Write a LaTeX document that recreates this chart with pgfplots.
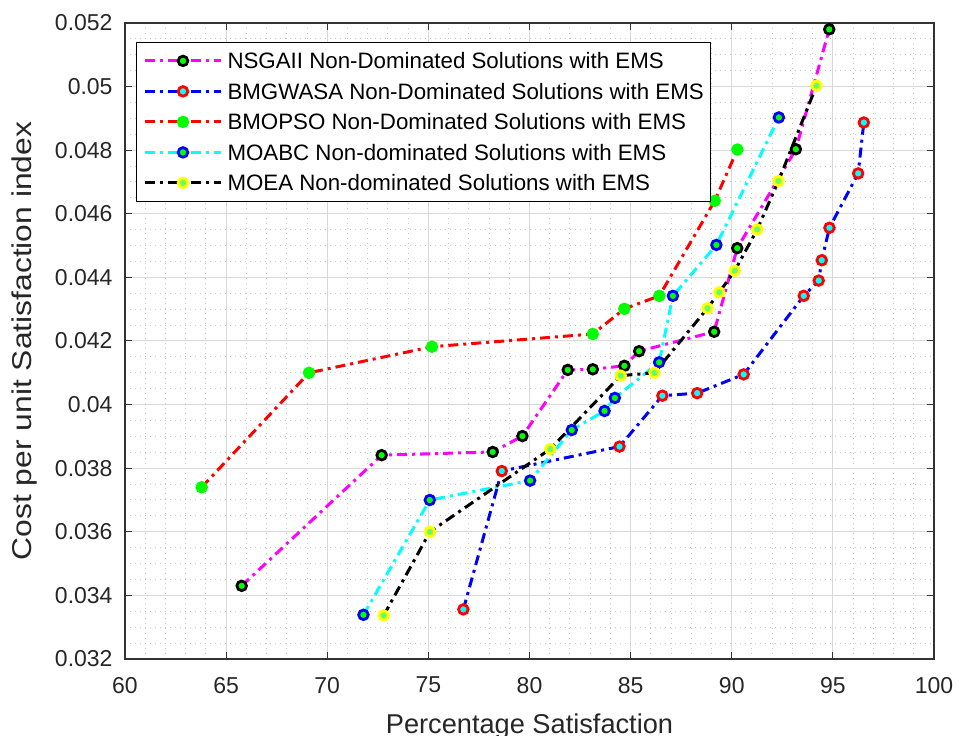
\documentclass[border=0pt]{standalone}
\usepackage{fontspec}
\setmainfont{Liberation Sans}
\usepackage{graphicx}
\usepackage{pgfplots}
\pgfplotsset{compat=1.18}
\definecolor{mgreen}{rgb}{0,1,0}
\definecolor{mcyan}{rgb}{0,1,1}
\definecolor{myellow}{rgb}{1,1,0}
\definecolor{mmag}{rgb}{1,0,1}
\definecolor{mblue}{rgb}{0,0,1}
\definecolor{mred}{rgb}{1,0,0}

\pgfplotstableread{
x y
65.77 0.03430
72.69 0.03841
78.18 0.03851
79.65 0.03901
81.89 0.04109
83.13 0.04111
84.69 0.04122
85.42 0.04168
89.13 0.04229
90.27 0.04492
93.17 0.04803
94.82 0.05180
}\nsga
\pgfplotstableread{
x y
76.73 0.03356
78.63 0.03791
84.45 0.03868
86.57 0.04028
88.29 0.04036
90.59 0.04095
93.56 0.04342
94.30 0.04390
94.45 0.04454
94.83 0.04556
96.25 0.04727
96.53 0.04887
}\bmgwasa
\pgfplotstableread{
x y
63.79 0.03740
69.10 0.04100
75.18 0.04182
83.13 0.04222
84.69 0.04301
86.42 0.04342
89.16 0.04641
90.28 0.04802
}\bmopso
\pgfplotstableread{
x y
71.79 0.03339
75.07 0.03700
80.03 0.03761
82.09 0.03920
83.71 0.03980
84.22 0.04021
86.41 0.04133
87.09 0.04342
89.24 0.04502
92.33 0.04903
}\moabc
\pgfplotstableread{
x y
72.79 0.03337
75.08 0.03600
81.02 0.03860
84.51 0.04091
86.18 0.04100
88.80 0.04303
89.38 0.04353
90.15 0.04421
91.26 0.04551
92.31 0.04703
94.19 0.05003
}\moea

\begin{document}
\begin{tikzpicture}
\begin{axis}[
  scale only axis, width=404.5pt, height=318pt,
  xmin=60, xmax=100, ymin=0.032, ymax=0.052,
  xtick={60,65,70,75,80,85,90,95,100},
  xticklabels={60,65,70,75,80,85,90,95,100},
  ytick={0.032,0.034,0.036,0.038,0.040,0.042,0.044,0.046,0.048,0.050,0.052},
  yticklabels={0.032,0.034,0.036,0.038,0.04,0.042,0.044,0.046,0.048,0.05,0.052},
  scaled y ticks=false, scaled x ticks=false,
  /pgf/number format/assume math mode=true,
  minor x tick num=4, minor y tick num=3,
  minor tick length=0pt, major tick length=3.5pt,
  tick style={line width=0.5pt, color=black!80},
  grid=both,
  major grid style={line width=0.5pt, color=black!15},
  minor grid style={line width=0.5pt, color=black!22, dotted},
  axis line style={line width=0.75pt, color=black!80},
  ticklabel style={font=\fontsize{11.5}{13}\selectfont, text=black!85},
  yticklabel style={xshift=-2.7pt},
  xticklabel style={yshift=-5.5pt},
  xlabel={Percentage Satisfaction},
  ylabel={\scalebox{1.17}[1]{Cost per unit Satisfaction index}},
  label style={font=\fontsize{13.6}{15}\selectfont, text=black!85},
  xlabel style={at={(axis description cs:0.5,-0.1164)}, anchor=base},
  ylabel style={at={(axis description cs:-0.1248,0.5)}, anchor=center},
  every axis plot/.append style={line width=1.5pt, dash pattern=on 5pt off 2.5pt on 1.5pt off 2.5pt},
  legend image code/.code={\draw[mark repeat=2,mark phase=2,#1] plot coordinates {(0pt,0pt)(19pt,0pt)(38pt,0pt)};},
  legend cell align=left,
  legend style={at={(axis description cs:0,1)}, anchor=north west, xshift=5.5pt, yshift=-9.5pt,
    draw=black, line width=0.5pt, fill=white,
    font=\fontsize{11.15}{13}\selectfont,
    inner xsep=3.5pt, inner ysep=4.2pt,
    row sep=5.25pt, column sep=2.5pt,
    nodes={inner sep=0pt, text height=8.9pt, text depth=1.1pt}},
]
\coordinate (bl) at (rel axis cs:0,0);
\coordinate (tr) at (rel axis cs:1,1);
\addplot[color=mmag, mark=*, mark size=2.4pt, mark options={solid, draw=black, fill=mgreen, line width=1.4pt}] table {\nsga};
\addlegendentry{NSGAII Non-Dominated Solutions with EMS}
\addplot[color=mblue, mark=*, mark size=2.4pt, mark options={solid, draw=mred, fill=mcyan, line width=1.4pt}] table {\bmgwasa};
\addlegendentry{BMGWASA Non-Dominated Solutions with EMS}
\addplot[color=mred, mark=*, mark size=2.4pt, mark options={solid, draw=mgreen, fill=mgreen, line width=1.4pt}] table {\bmopso};
\addlegendentry{BMOPSO Non-Dominated Solutions with EMS}
\addplot[color=mcyan, mark=*, mark size=2.4pt, mark options={solid, draw=mblue, fill=mgreen, line width=1.4pt}] table {\moabc};
\addlegendentry{MOABC Non-dominated Solutions with EMS}
\addplot[color=black, mark=*, mark size=2.4pt, mark options={solid, draw=myellow, fill=mgreen!60!white, line width=1.4pt}] table {\moea};
\addlegendentry{MOEA Non-dominated Solutions with EMS}
\end{axis}
\pgfresetboundingbox
\path[use as bounding box] ([shift={(-62.5pt,-38.5pt)}]bl) rectangle ([shift={(13.5pt,11.5pt)}]tr);
\end{tikzpicture}
\end{document}
